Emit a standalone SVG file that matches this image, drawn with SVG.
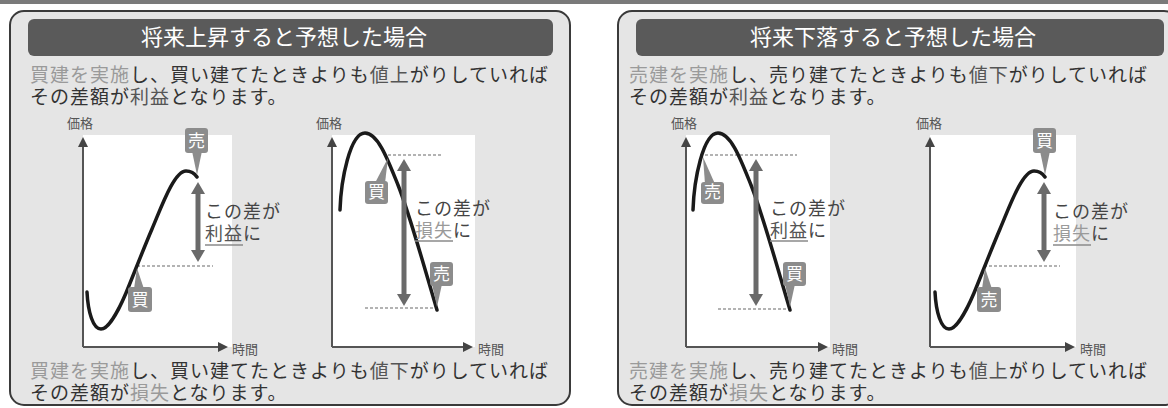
<svg xmlns="http://www.w3.org/2000/svg" width="1168" height="408" viewBox="0 0 1168 408">
<defs>
<style>
text { font-family: "Liberation Sans", "Noto Sans CJK JP", sans-serif; }
.panel { fill:#e5e5e5; stroke:#3a3a3a; stroke-width:2; }
.title-bar { fill:#5a5a5a; }
.title { fill:#ffffff; font-size:22px; text-anchor:middle; }
.desc { fill:#333333; font-size:19px; letter-spacing:1px; }
.hl { fill:#9a9a9a; }
.mid { fill:#555555; }
.plot { fill:#ffffff; }
.axis { stroke:#555555; stroke-width:2; fill:none; marker-end:url(#axh); }
.axis-label { fill:#555555; font-size:13px; }
.curve { fill:none; stroke:#1a1a1a; stroke-width:3.5; stroke-linecap:round; stroke-linejoin:round; }
.guide { stroke:#9a9a9a; stroke-width:1.3; stroke-dasharray:3 2; fill:none; }
.tag rect, .tag path { fill:#8c8c8c; }
.tag text { fill:#ffffff; font-size:17px; text-anchor:middle; }
.diff { stroke:#6a6a6a; stroke-width:5; marker-start:url(#dh); marker-end:url(#dh); }
.note { fill:#444444; font-size:18px; letter-spacing:1px; }
.uline { stroke:#8a8a8a; stroke-width:1.5; }
</style>
<marker id="dh" viewBox="0 0 12 14" refX="4" refY="7" markerWidth="12" markerHeight="14" markerUnits="userSpaceOnUse" orient="auto-start-reverse">
<path d="M0,0 L12,7 L0,14 z" fill="#6a6a6a"/>
</marker>
<marker id="axh" viewBox="0 0 10 10" refX="1" refY="5" markerWidth="10" markerHeight="10" markerUnits="userSpaceOnUse" orient="auto">
<path d="M0,0 L10,5 L0,10 z" fill="#444444"/>
</marker>
</defs>

<rect x="0" y="0" width="1168" height="408" fill="#ffffff"/>
<rect x="0" y="0" width="1168" height="4" fill="#7a7a7a"/>

<!-- LEFT PANEL -->
<g id="panel-up">
<rect class="panel" x="10" y="11" width="560" height="394" rx="14"/>
<rect class="title-bar" x="28" y="19" width="525" height="37" rx="6"/>
<text class="title" x="284" y="45">将来上昇すると予想した場合</text>
<text class="desc" x="30" y="82"><tspan class="hl">買建を実施</tspan>し、買い建てたときよりも<tspan class="mid">値上</tspan>がりしていれば</text>
<text class="desc" x="30" y="104">その差額が<tspan class="mid">利益</tspan>となります。</text>

<g id="chart-up-gain">
<rect class="plot" x="83" y="135" width="149" height="212"/>
<line class="axis" x1="83" y1="347" x2="83" y2="146"/>
<line class="axis" x1="83" y1="347" x2="219" y2="347"/>
<text class="axis-label" x="67" y="128">価格</text>
<text class="axis-label" x="232" y="354">時間</text>
<line class="guide" x1="137" y1="266" x2="213" y2="266"/>
<path class="curve" d="M87,292 C88,312 93,329 101,329 C108,329 118,312 126,293 C133,276 143,250 152,229 C161,208 174,171 186,171 C192,171 195,174 197,177"/>
<g class="tag"><rect x="185" y="128" width="23" height="25" rx="3"/><path d="M192,151 L202,151 L197,175 z"/><text x="196.5" y="147">売</text></g>
<g class="tag"><rect x="128" y="287" width="24" height="25" rx="3"/><path d="M134,289 L144,289 L137,268 z"/><text x="140" y="306">買</text></g>
<text class="note" x="205" y="218">この差が</text>
<text class="note" x="205" y="240"><tspan class="mid">利益</tspan>に</text>
<line class="uline" x1="205" y1="245" x2="243" y2="245"/>
</g>

<g id="chart-up-loss">
<rect class="plot" x="332" y="135" width="143" height="212"/>
<line class="axis" x1="332" y1="347" x2="332" y2="146"/>
<line class="axis" x1="332" y1="347" x2="464" y2="347"/>
<text class="axis-label" x="316" y="128">価格</text>
<text class="axis-label" x="478" y="354">時間</text>
<line class="guide" x1="388" y1="155" x2="443" y2="155"/>
<line class="guide" x1="365" y1="308" x2="433" y2="308"/>
<path class="curve" d="M340,210 C341,180 350,133 365,133 C378,133 388,160 398,185 C410,215 425,270 437,310"/>
<g class="tag"><rect x="365" y="181" width="23" height="23" rx="3"/><path d="M375,183 L385,183 L388,158 z"/><text x="376.5" y="198">買</text></g>
<g class="tag"><rect x="430" y="262" width="23" height="24" rx="3"/><path d="M432,284 L442,284 L437,307 z"/><text x="441.5" y="280">売</text></g>
<text class="note" x="415" y="215">この差が</text>
<text class="note" x="415" y="237"><tspan class="hl">損失</tspan>に</text>
<line class="uline" x1="415" y1="241" x2="453" y2="241"/>
</g>

<text class="desc" x="30" y="378"><tspan class="hl">買建を実施</tspan>し、買い建てたときよりも<tspan class="mid">値下</tspan>がりしていれば</text>
<text class="desc" x="30" y="400">その差額が<tspan class="hl">損失</tspan>となります。</text>
</g>

<!-- RIGHT PANEL -->
<g id="panel-down">
<rect class="panel" x="618" y="11" width="560" height="394" rx="14"/>
<rect class="title-bar" x="636" y="19" width="528" height="37" rx="6"/>
<text class="title" x="893" y="45">将来下落すると予想した場合</text>
<text class="desc" x="629" y="82"><tspan class="hl">売建を実施</tspan>し、売り建てたときよりも<tspan class="mid">値下</tspan>がりしていれば</text>
<text class="desc" x="629" y="104">その差額が<tspan class="mid">利益</tspan>となります。</text>

<g id="chart-down-gain">
<rect class="plot" x="686" y="135" width="144" height="212"/>
<line class="axis" x1="686" y1="347" x2="686" y2="146"/>
<line class="axis" x1="686" y1="347" x2="819" y2="347"/>
<text class="axis-label" x="671" y="128">価格</text>
<text class="axis-label" x="832" y="354">時間</text>
<line class="guide" x1="700" y1="155" x2="797" y2="155"/>
<line class="guide" x1="718" y1="309" x2="788" y2="309"/>
<path class="curve" d="M693,210 C694,180 703,133 718,133 C731,133 741,160 751,185 C763,215 778,270 790,310"/>
<g class="tag"><rect x="701" y="182" width="23" height="22" rx="3"/><path d="M705,184 L715,184 L703,157 z"/><text x="712.5" y="198">売</text></g>
<g class="tag"><rect x="783" y="262" width="23" height="24" rx="3"/><path d="M785,284 L795,284 L790,307 z"/><text x="794.5" y="280">買</text></g>
<text class="note" x="770" y="215">この差が</text>
<text class="note" x="770" y="237"><tspan class="mid">利益</tspan>に</text>
<line class="uline" x1="770" y1="241" x2="808" y2="241"/>
</g>

<g id="chart-down-loss" transform="translate(847,0)">
<rect class="plot" x="83" y="135" width="146" height="212"/>
<line class="axis" x1="83" y1="347" x2="83" y2="146"/>
<line class="axis" x1="83" y1="347" x2="219" y2="347"/>
<text class="axis-label" x="69" y="128">価格</text>
<text class="axis-label" x="233" y="354">時間</text>
<line class="guide" x1="137" y1="266" x2="213" y2="266"/>
<path class="curve" d="M88,292 C89,312 94,329 102,329 C109,329 119,312 127,293 C134,276 144,250 153,229 C162,208 175,171 187,171 C193,171 196,174 198,177"/>
<g class="tag"><rect x="186" y="128" width="23" height="25" rx="3"/><path d="M193,151 L203,151 L198,175 z"/><text x="197.5" y="147">買</text></g>
<g class="tag"><rect x="130" y="287" width="24" height="25" rx="3"/><path d="M135,289 L145,289 L138,268 z"/><text x="142" y="306">売</text></g>
<text class="note" x="206" y="218">この差が</text>
<text class="note" x="206" y="240"><tspan class="hl">損失</tspan>に</text>
<line class="uline" x1="206" y1="245" x2="244" y2="245"/>
</g>

<text class="desc" x="629" y="378"><tspan class="hl">売建を実施</tspan>し、売り建てたときよりも<tspan class="mid">値上</tspan>がりしていれば</text>
<text class="desc" x="629" y="400">その差額が<tspan class="hl">損失</tspan>となります。</text>
</g>

<g id="connectors">
<line class="diff" x1="198" y1="190" x2="198" y2="254"/>
<line class="diff" x1="404" y1="167" x2="404" y2="298"/>
<line class="diff" x1="756" y1="167" x2="756" y2="298"/>
<line class="diff" x1="1044" y1="190" x2="1044" y2="254"/>
</g>
</svg>
